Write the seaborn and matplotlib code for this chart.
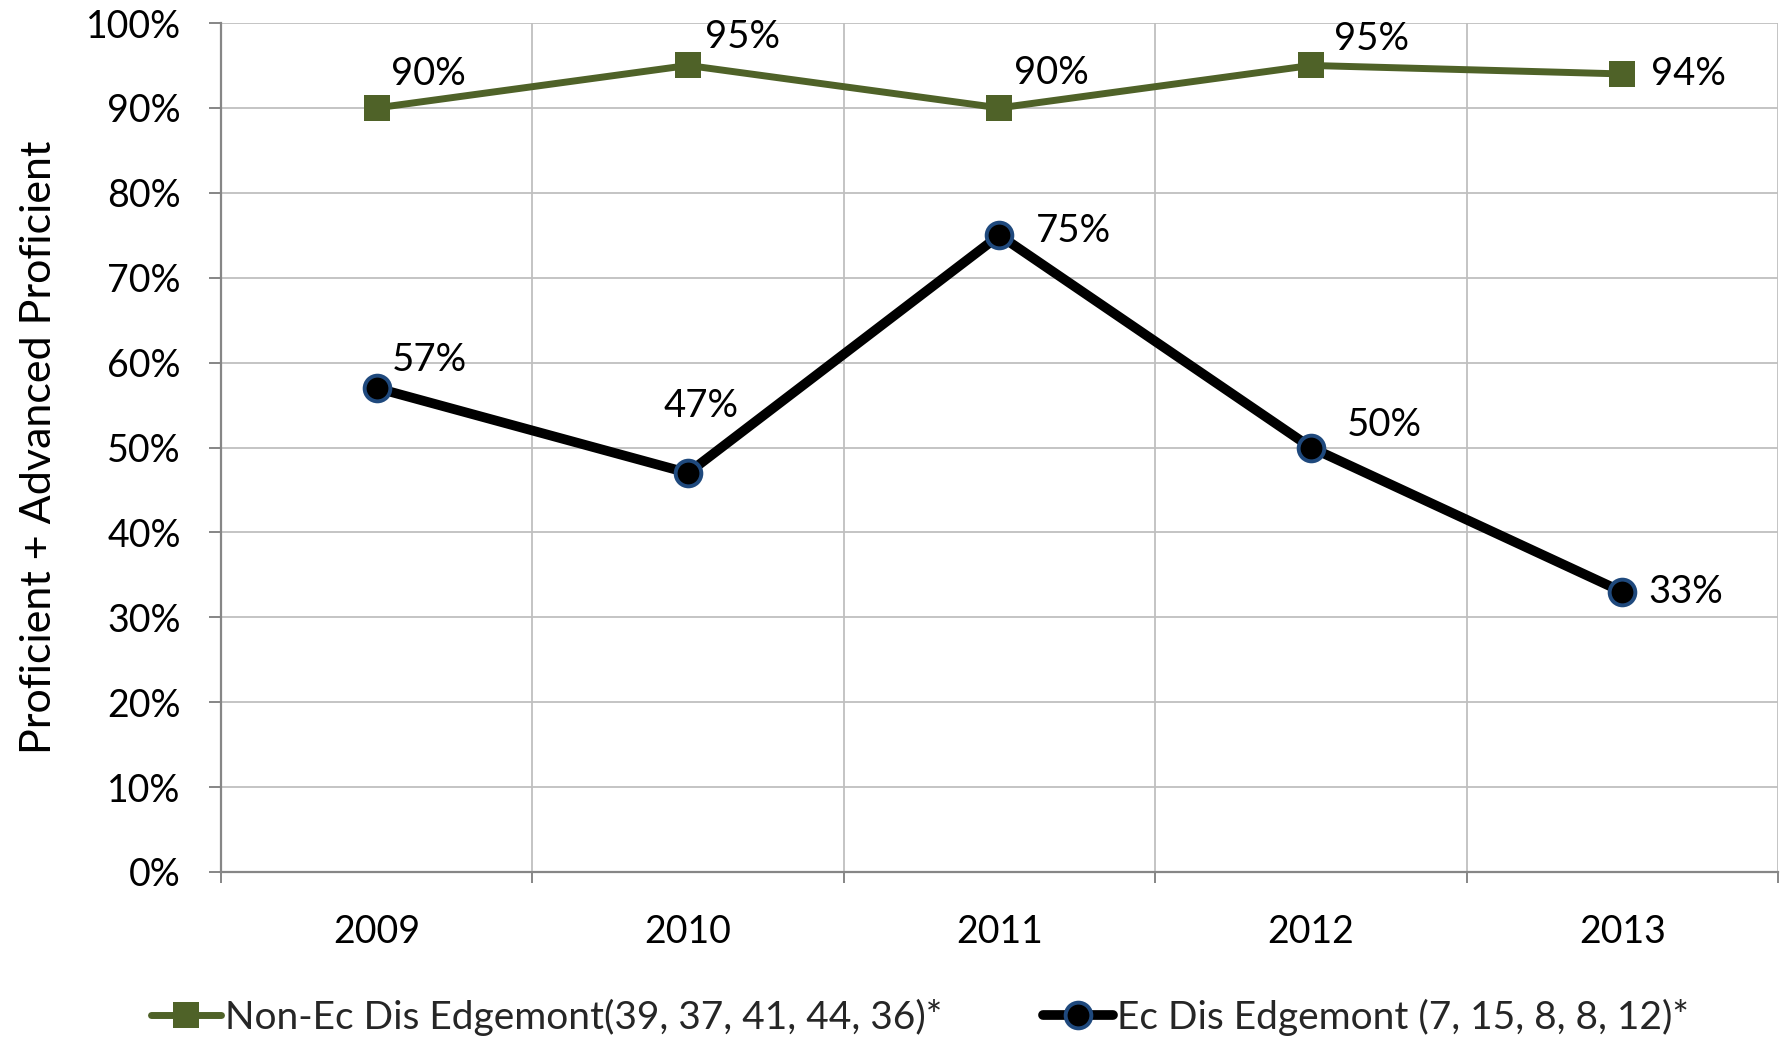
import matplotlib
matplotlib.use("Agg")
import matplotlib.pyplot as plt
import seaborn as sns
import pandas as pd
from matplotlib.ticker import FixedLocator

# data
years = ["2009", "2010", "2011", "2012", "2013"]
non_ec = [90, 95, 90, 95, 94]
ec = [57, 47, 75, 50, 33]
non_ec_label = "Non-Ec Dis Edgemont(39, 37, 41, 44, 36)*"
ec_label = "Ec Dis Edgemont (7, 15, 8, 8, 12)*"
y_title = "Proficient + Advanced Proficient"

# where each value label sits relative to its marker (pixels)
non_ec_offsets = [(14, 34), (17, 28), (15, 35), (23, 26), (29, 0)]
ec_offsets = [(15, 28), (-25, 67), (36, 4), (36, 23), (26, 0)]

green = "#4F6228"
navy = "#1F497D"
grid_c = "#BFBFBF"
axis_c = "#868686"

sns.set_style("white")
plt.rcParams["font.family"] = ["Lato", "DejaVu Sans"]
fs = 27.5

df = pd.DataFrame({"year": years, "non_ec": non_ec, "ec": ec})

fig = plt.figure(figsize=(17.81, 10.37), dpi=100)
ax = fig.add_axes([221 / 1781, 1 - 872 / 1037, (1778 - 221) / 1781, (872 - 23) / 1037])

sns.lineplot(data=df, x="year", y="non_ec", ax=ax, color=green, linewidth=5,
             marker="s", markersize=19, markerfacecolor=green, markeredgecolor=green,
             markeredgewidth=0, label=non_ec_label, zorder=3)
sns.lineplot(data=df, x="year", y="ec", ax=ax, color="black", linewidth=7,
             marker="o", markersize=18.5, markerfacecolor="black", markeredgecolor=navy,
             markeredgewidth=2.8, label=ec_label, zorder=4)

# value labels
for i, v in enumerate(non_ec):
    dx, dy = non_ec_offsets[i]
    ax.annotate(f"{v}%", (i, v), xytext=(dx, dy), textcoords="offset pixels",
                ha="left", va="center", fontsize=fs, color="black", zorder=5)
for i, v in enumerate(ec):
    dx, dy = ec_offsets[i]
    ax.annotate(f"{v}%", (i, v), xytext=(dx, dy), textcoords="offset pixels",
                ha="left", va="center", fontsize=fs, color="black", zorder=5)

ax.set_xlim(-0.5, 4.5)
ax.set_ylim(0, 100)
ax.set_yticks(range(0, 101, 10))
ax.set_yticklabels([f"{t}%" for t in range(0, 101, 10)])
ax.xaxis.set_minor_locator(FixedLocator([-0.5, 0.5, 1.5, 2.5, 3.5, 4.5]))

ax.grid(axis="y", which="major", color=grid_c, linewidth=1.3)
ax.grid(axis="x", which="minor", color=grid_c, linewidth=1.3)
ax.grid(axis="x", which="major", visible=False)
ax.set_axisbelow(True)

for s in ["top", "right"]:
    ax.spines[s].set_visible(False)
for s in ["left", "bottom"]:
    ax.spines[s].set_color(axis_c)
    ax.spines[s].set_linewidth(1.6)

ax.tick_params(axis="y", which="major", length=9, width=1.4, color=axis_c,
               direction="out", left=True, pad=20, labelsize=27, labelcolor="black")
ax.tick_params(axis="x", which="major", length=0, pad=30, labelsize=27, labelcolor="black")
ax.tick_params(axis="x", which="minor", length=8, width=1.4, color=axis_c,
               direction="out", bottom=True)

ax.set_xlabel("")
ax.set_ylabel(y_title, fontsize=31, color="black", labelpad=20)

handles, labels = ax.get_legend_handles_labels()
ax.get_legend().remove()
fig.legend(handles, labels, loc="center", bbox_to_anchor=(920 / 1781, 20 / 1037),
           ncol=2, frameon=False, fontsize=28, columnspacing=2.6,
           handlelength=1.8, handletextpad=0.1, markerscale=1.0)

fig.savefig("out.png", dpi=100)
